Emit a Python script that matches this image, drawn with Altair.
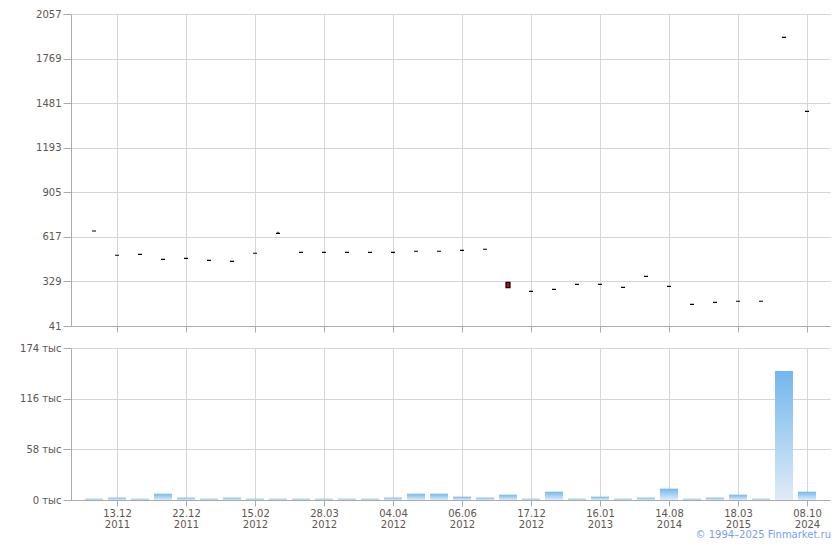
import json
import altair as alt
import pandas as pd

# ---- data ----
idx = list(range(32))
opens = [655, 498, 504, 472, 478, 465, 459, 511, 640,
         517, 517, 517, 517, 517, 524, 524, 530, 537,
         323, 265, 278,
         310, 310, 291, 362, 297, 181, 194, 201, 201, 1906, 1428]
closes = [655, 498, 504, 472, 478, 465, 459, 511, 640,
          517, 517, 517, 517, 517, 524, 524, 530, 537,
          289, 265, 278,
          310, 310, 291, 362, 297, 181, 194, 201, 201, 1906, 1428]
highs = [655, 498, 504, 472, 478, 465, 459, 511, 650,
         517, 517, 517, 517, 517, 524, 524, 530, 537,
         323, 265, 278,
         310, 310, 291, 362, 297, 181, 194, 201, 201, 1906, 1428]
lows = [655, 498, 504, 472, 478, 465, 459, 511, 640,
        517, 517, 517, 517, 517, 524, 524, 530, 537,
        289, 265, 278,
        310, 310, 291, 362, 297, 181, 194, 201, 201, 1906, 1428]
volumes_k = [1.5, 2.7, 1.5, 7.2, 2.7, 1.5, 2.7, 1.5, 1.5, 1.5, 1.5, 1.5, 1.5, 2.7, 7.2,
             7.2, 3.8, 2.7, 6.1, 1.5, 9.5, 1.5, 3.8, 1.5, 2.7, 13.0, 1.5, 2.7, 6.1, 1.5, 147.8, 9.5]

tick_idx = [1, 4, 7, 10, 13, 16, 19, 22, 25, 28, 31]
tick_dates = ["13.12", "22.12", "15.02", "28.03", "04.04", "06.06", "17.12", "16.01", "14.08", "18.03", "08.10"]
tick_years = ["2011", "2011", "2012", "2012", "2012", "2012", "2012", "2013", "2014", "2015", "2024"]
price_ticks = [41, 329, 617, 905, 1193, 1481, 1769, 2057]
vol_ticks = [0, 58, 116, 174]
footer = ["© 1994–2025 Finmarket.ru"]

df = pd.DataFrame({"i": idx, "open": opens, "close": closes, "high": highs,
                   "low": lows, "vol": volumes_k})

FONT = "DejaVu Sans"
LABEL_C = "#5e5650"
GRID_C = "#d3d7dc"
AXIS_C = "#a8acb1"

pairs = json.dumps([[d, y] for d, y in zip(tick_dates, tick_years)])
label_expr = f"{pairs}[round((datum.value - 1) / 3)]"

xscale = alt.Scale(domain=[-1, 32], nice=False, zero=False, padding=0)

top_xaxis = alt.Axis(values=tick_idx, labels=False, title=None, grid=True,
                     gridColor=GRID_C, domainColor=AXIS_C, tickColor=AXIS_C,
                     tickSize=6)
bot_xaxis = alt.Axis(values=tick_idx, labelExpr=label_expr, title=None, grid=True,
                     gridColor=GRID_C, domainColor=AXIS_C, tickColor=AXIS_C,
                     tickSize=6, labelPadding=2, labelLineHeight=11,
                     labelFont=FONT, labelFontSize=10, labelColor=LABEL_C)

price_axis = alt.Axis(values=price_ticks, format="d", title=None, grid=True,
                      gridColor=GRID_C, domainColor=AXIS_C, tickColor=AXIS_C,
                      tickSize=8, labelPadding=2, labelFont=FONT, labelFontSize=10,
                      labelColor=LABEL_C)
vol_axis = alt.Axis(values=vol_ticks, title=None, grid=True, gridColor=GRID_C,
                    domainColor=AXIS_C, tickColor=AXIS_C, tickSize=8,
                    labelPadding=2, labelFont=FONT, labelFontSize=10,
                    labelColor=LABEL_C, labelExpr="datum.value + ' тыс'")

pscale = alt.Scale(domain=[41, 2057], nice=False, zero=False, padding=0)

wick = alt.Chart(df).mark_rule(color="black", strokeWidth=1).encode(
    x=alt.X("i:Q", scale=xscale, axis=top_xaxis),
    y=alt.Y("low:Q", scale=pscale, axis=price_axis),
    y2="high:Q",
)
body = alt.Chart(df).mark_bar(width=4, stroke="black", strokeWidth=1.2).encode(
    x=alt.X("i:Q", scale=xscale, axis=top_xaxis),
    y=alt.Y("open:Q", scale=pscale, axis=price_axis),
    y2="close:Q",
    fill=alt.condition("datum.close < datum.open", alt.value("#e00000"), alt.value("#ffffff")),
)
top = alt.layer(wick, body).properties(width=759, height=312)

grad = alt.Gradient(
    gradient="linear",
    stops=[alt.GradientStop(color="#e0ebf7", offset=0),
           alt.GradientStop(color="#72b7ee", offset=1)],
    x1=0, x2=0, y1=1, y2=0,
)
bars = alt.Chart(df).mark_bar(width=18, color=grad).encode(
    x=alt.X("i:Q", scale=xscale, axis=bot_xaxis),
    y=alt.Y("vol:Q", scale=alt.Scale(domain=[0, 174], nice=False, padding=0), axis=vol_axis),
)
foot = alt.Chart(pd.DataFrame({"t": footer})).mark_text(
    align="right", baseline="alphabetic", font=FONT, fontSize=10, color="#7b9cf0"
).encode(text="t:N", x=alt.value(760), y=alt.value(190))

bottom = alt.layer(bars, foot).properties(width=759, height=152)

chart = alt.vconcat(top, bottom, spacing=10).properties(
    padding={"left": 11, "top": 1, "right": 1, "bottom": 0},
).configure_view(stroke=None)

chart.save("out.html", embed_options={"renderer": "svg", "actions": False})
